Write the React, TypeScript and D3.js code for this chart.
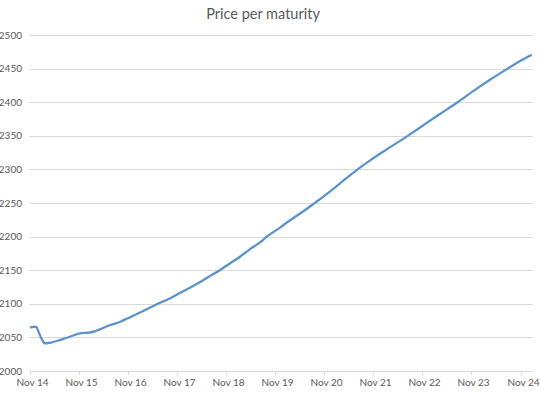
import React from "react";
import * as d3 from "d3";

const dates: string[] = [
  "2014-11-11", "2014-12-18", "2015-01-10", "2015-02-01", "2015-02-24", "2015-04-01",
  "2015-06-14", "2015-08-28", "2015-11-10", "2016-01-09", "2016-03-01", "2016-04-07",
  "2016-06-20", "2016-09-03", "2016-11-17", "2017-01-31", "2017-04-14", "2017-06-12",
  "2017-09-10", "2017-11-23", "2018-02-06", "2018-04-20", "2018-07-03", "2018-09-16",
  "2018-11-30", "2019-02-13", "2019-04-27", "2019-07-10", "2019-09-01", "2019-12-06",
  "2020-02-19", "2020-05-03", "2020-08-23", "2020-12-13", "2021-04-03", "2021-07-08",
  "2021-10-06", "2022-01-26", "2022-06-23", "2022-10-12", "2023-03-09", "2023-07-21",
  "2023-11-25", "2024-03-15", "2024-07-27", "2024-10-25", "2025-01-16",
];

const prices: number[] = [
  2065, 2066, 2057, 2047, 2041, 2042,
  2046, 2051, 2056, 2057, 2059, 2062,
  2068, 2073, 2080, 2087, 2094, 2100,
  2108, 2116, 2124, 2132, 2141, 2150,
  2160, 2170, 2181, 2191, 2200, 2213,
  2224, 2234, 2250, 2267, 2285, 2300,
  2313, 2328, 2347, 2362, 2382, 2400,
  2418, 2433, 2450, 2461, 2470,
];

const yTicks: number[] = [2000, 2050, 2100, 2150, 2200, 2250, 2300, 2350, 2400, 2450, 2500];
const xTickDates: string[] = [
  "2014-11-01", "2015-11-01", "2016-11-01", "2017-11-01", "2018-11-01", "2019-11-01",
  "2020-11-01", "2021-11-01", "2022-11-01", "2023-11-01", "2024-11-01",
];
const xTickLabels: string[] = [
  "Nov 14", "Nov 15", "Nov 16", "Nov 17", "Nov 18", "Nov 19",
  "Nov 20", "Nov 21", "Nov 22", "Nov 23", "Nov 24",
];
const title = "Price per maturity";

const W = 540;
const H = 394;
const left = 29.5;
const right = 533;
const top = 35;
const bottom = 371;

export default function App() {
  const parse = d3.timeParse("%Y-%m-%d");
  const x = d3
    .scaleTime()
    .domain([parse("2014-11-01") as Date, parse("2025-02-01") as Date])
    .range([left, right]);
  const y = d3.scaleLinear().domain([2000, 2500]).range([bottom, top]);

  const points = dates.map((d, i) => ({ date: parse(d) as Date, value: prices[i] }));
  const line = d3
    .line<{ date: Date; value: number }>()
    .x((d) => x(d.date))
    .y((d) => y(d.value))
    .curve(d3.curveMonotoneX);

  const font = "Lato, 'Liberation Sans', sans-serif";

  return (
    <div style={{ position: "absolute", left: 0, top: 0 }}>
      <svg width={W} height={H} style={{ display: "block", background: "#fff" }}>
        <text
          x={263}
          y={19}
          textAnchor="middle"
          fontFamily={font}
          fontSize={14.5}
          fill="#595959"
        >
          {title}
        </text>
        {yTicks.map((t) => (
          <g key={t}>
            <line
              x1={left}
              x2={right}
              y1={Math.round(y(t)) + 0.5}
              y2={Math.round(y(t)) + 0.5}
              stroke="#D9D9D9"
              strokeWidth={1}
            />
            <text
              x={22}
              y={y(t) + 3.5}
              textAnchor="end"
              fontFamily={font}
              fontSize={10}
              fill="#595959"
            >
              {t}
            </text>
          </g>
        ))}
        {xTickDates.map((d, i) => {
          const xp = Math.round(x(parse(d) as Date)) + 0.5;
          return (
            <g key={d}>
              <line x1={xp} x2={xp} y1={bottom} y2={bottom + 4} stroke="#D9D9D9" />
              <text
                x={xp + 2}
                y={386}
                textAnchor="middle"
                fontFamily={font}
                fontSize={10}
                fill="#595959"
              >
                {xTickLabels[i]}
              </text>
            </g>
          );
        })}
        <path
          d={line(points) || ""}
          fill="none"
          stroke="#5A92CB"
          strokeWidth={2.25}
          strokeLinejoin="round"
          strokeLinecap="round"
        />
      </svg>
    </div>
  );
}
